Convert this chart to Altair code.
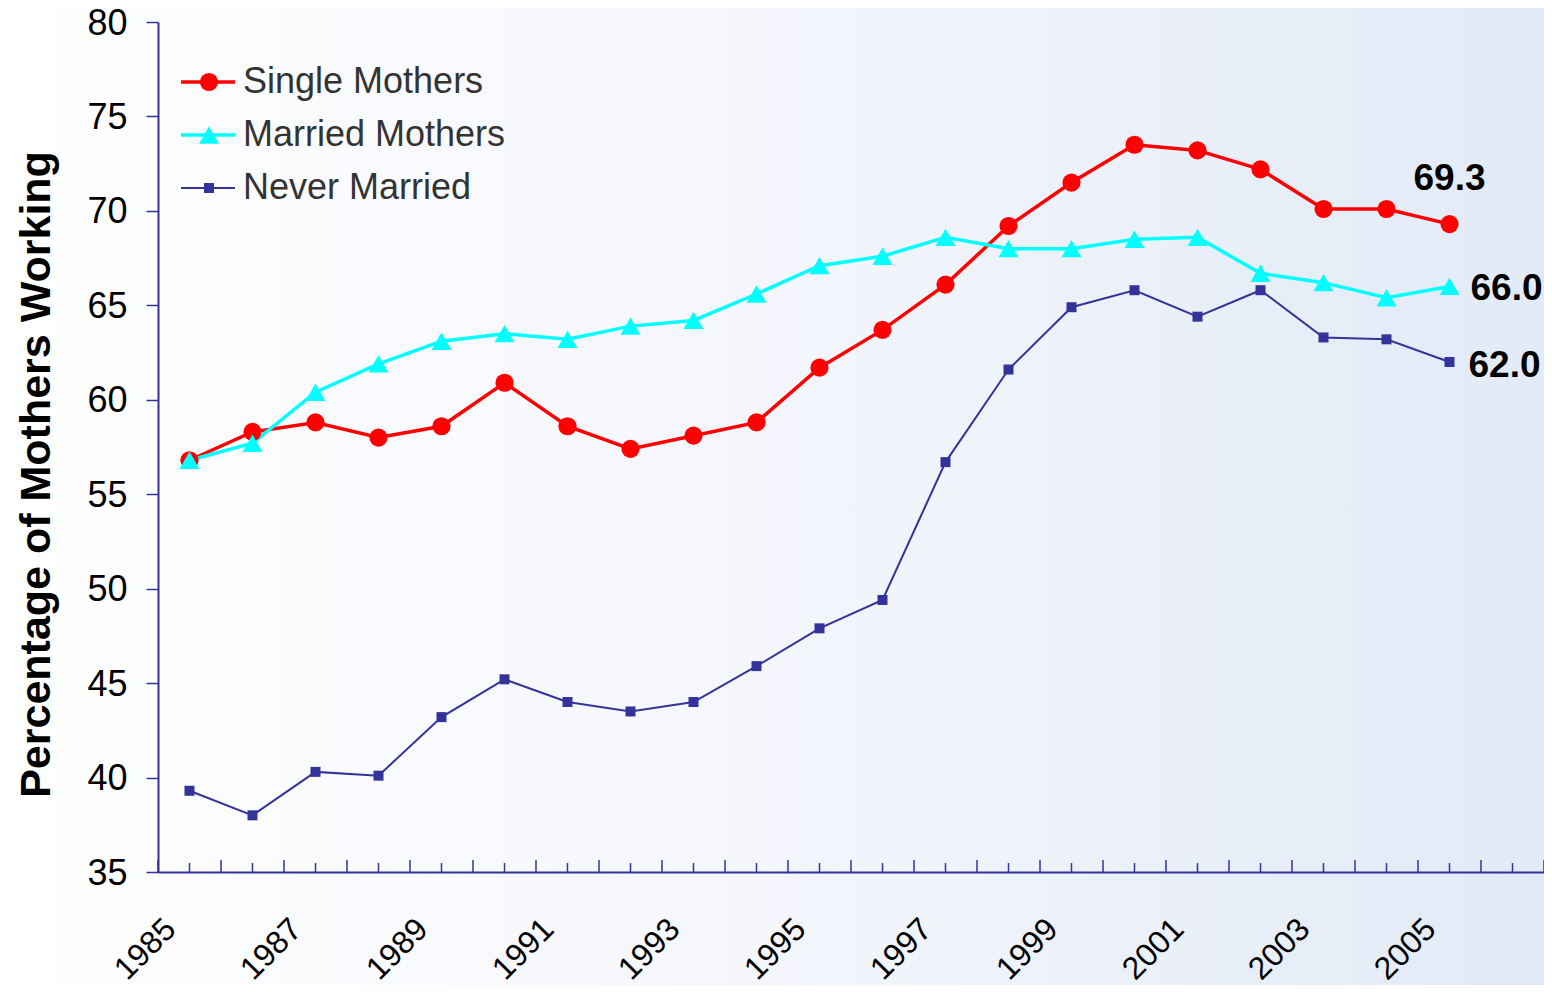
import altair as alt
import pandas as pd

# ---------------- data ----------------
years = list(range(1985, 2006))
series_names = ["Single Mothers", "Married Mothers", "Never Married"]
single_mothers = [56.8, 58.3, 58.8, 58.0, 58.6, 60.9, 58.6, 57.4, 58.1, 58.8,
                  61.7, 63.7, 66.1, 69.2, 71.5, 73.5, 73.2, 72.2, 70.1, 70.1, 69.3]
married_mothers = [56.8, 57.7, 60.4, 61.9, 63.1, 63.5, 63.2, 63.9, 64.2, 65.6,
                   67.1, 67.6, 68.6, 68.0, 68.0, 68.5, 68.6, 66.7, 66.2, 65.4, 66.0]
never_married = [39.3, 38.0, 40.3, 40.1, 43.2, 45.2, 44.0, 43.5, 44.0, 45.9,
                 47.9, 49.4, 56.7, 61.6, 64.9, 65.8, 64.4, 65.8, 63.3, 63.2, 62.0]
series_colors = ["#FF0000", "#00FFFF", "#333399"]
series_shapes = ["circle", "triangle-up", "square"]
marker_sizes = [330, 400, 100]
line_widths = [3.5, 3.5, 2.0]
y_tick_values = list(range(35, 81, 5))
x_label_years = years[::2]
axis_years = years + [2006]

rows = []
for name, vals in zip(series_names, [single_mothers, married_mothers, never_married]):
    for yr, v in zip(years, vals):
        rows.append({"year": yr, "value": v, "series": name})
df = pd.DataFrame(rows)
last = df[df["year"] == years[-1]]

# ---------------- layout / style ----------------
W, H = 1386, 850
PAD = {"left": 150, "top": 14, "right": 0, "bottom": 113}
AXIS_COLOR = "#333399"
FONT = "Liberation Sans"

x_scale = alt.Scale(domain=[axis_years[0] - 0.5, axis_years[-1] + 0.5], nice=False, zero=False)
y_scale = alt.Scale(domain=[35, 80], nice=False, zero=False)
color_scale = alt.Scale(domain=series_names, range=series_colors)

x_axis = alt.Axis(values=x_label_years, format="d", labelAngle=315, labelAlign="right",
                  labelBaseline="top", labelPadding=41, labelOffset=-30, ticks=False,
                  domainColor=AXIS_COLOR, domainWidth=2, labelFontSize=32, labelColor="black",
                  labelFont=FONT, title=None, grid=False, labelOverlap=False, labelFlush=False,
                  zindex=1)
y_axis = alt.Axis(values=y_tick_values, title="Percentage of Mothers Working",
                  titleFontSize=43, titleFontWeight="bold", titleColor="black", titleFont=FONT,
                  titleAngle=270, titleX=-109, titleY=452, titleBaseline="alphabetic",
                  titleAlign="center", tickSize=12, tickColor=AXIS_COLOR, tickWidth=1.5,
                  domainColor=AXIS_COLOR, domainWidth=2, labelFontSize=36, labelColor="black",
                  labelFont=FONT, labelPadding=19, labelOffset=1, labelFlush=False,
                  grid=False, zindex=1)

legend_common = dict(title=None, orient="none", legendY=42, direction="vertical",
                     labelFontSize=36, labelColor="#333333", labelFont=FONT, labelLimit=600,
                     rowPadding=17, clipHeight=36, padding=0, labelOffset=6)
legend_lines = alt.Legend(legendX=21, symbolType="stroke", symbolSize=2916, zindex=1,
                          **legend_common)
legend_points = alt.Legend(legendX=33, labelOpacity=0, zindex=2, **legend_common)

# same axis definition in every layer, so the shared axes merge cleanly
x_year = alt.X("year:Q", scale=x_scale, axis=x_axis)
y_value = alt.Y("value:Q", scale=y_scale, axis=y_axis)

# ---------------- layers ----------------
bg = alt.Chart(pd.DataFrame({"k": [0]})).mark_rect(
    fill=alt.LinearGradient(
        gradient="linear",
        stops=[alt.GradientStop(color="#FFFFFF", offset=0),
               alt.GradientStop(color="#F4F6FC", offset=0.5),
               alt.GradientStop(color="#E1EAF6", offset=1)],
        x1=0, x2=1, y1=0, y2=0)
).encode(x=alt.value(-PAD["left"]), x2=alt.value(W + PAD["right"]),
         y=alt.value(-PAD["top"]), y2=alt.value(H + PAD["bottom"]))

tick_long = alt.Chart(pd.DataFrame({"year": [y - 0.5 for y in axis_years] + [axis_years[-1] + 0.5]})
                      ).mark_rule(color=AXIS_COLOR, strokeWidth=1.5).encode(
    x=x_year, y=alt.value(H), y2=alt.value(H - 12))
tick_short = alt.Chart(pd.DataFrame({"year": axis_years})).mark_rule(
    color=AXIS_COLOR, strokeWidth=1.5).encode(
    x=x_year, y=alt.value(H), y2=alt.value(H - 9))

lines = alt.Chart(df).mark_line().encode(
    x=x_year, y=y_value,
    color=alt.Color("series:N", scale=color_scale, legend=legend_lines),
    strokeWidth=alt.StrokeWidth("series:N",
                                scale=alt.Scale(type="ordinal", domain=series_names, range=line_widths),
                                legend=legend_lines),
)

points = alt.Chart(df).mark_point(filled=True, opacity=1).encode(
    x=x_year, y=y_value,
    color=alt.Color("series:N", scale=color_scale, legend=legend_points),
    shape=alt.Shape("series:N", scale=alt.Scale(domain=series_names, range=series_shapes),
                    legend=legend_points),
    size=alt.Size("series:N", scale=alt.Scale(type="ordinal", domain=series_names, range=marker_sizes),
                  legend=legend_points),
)

def end_label(name, align, dx, dy):
    return alt.Chart(last[last["series"] == name]).mark_text(
        font=FONT, fontSize=37, fontWeight="bold", color="black",
        align=align, baseline="middle", dx=dx, dy=dy
    ).encode(x=x_year, y=y_value, text=alt.Text("value:Q", format=".1f"))

lab1 = end_label(series_names[0], "center", 0, -45)
lab2 = end_label(series_names[1], "left", 21, 3)
lab3 = end_label(series_names[2], "left", 19, 4)

chart = alt.layer(bg, tick_long, tick_short, lines, points, lab1, lab2, lab3).resolve_legend(
    color="independent", strokeWidth="independent", shape="independent", size="independent"
).properties(
    width=W, height=H,
    autosize=alt.AutoSizeParams(type="none"),
    padding=PAD,
).configure(font=FONT).configure_view(stroke=None)

chart.save("out.html", embed_options={"renderer": "svg", "actions": False})
